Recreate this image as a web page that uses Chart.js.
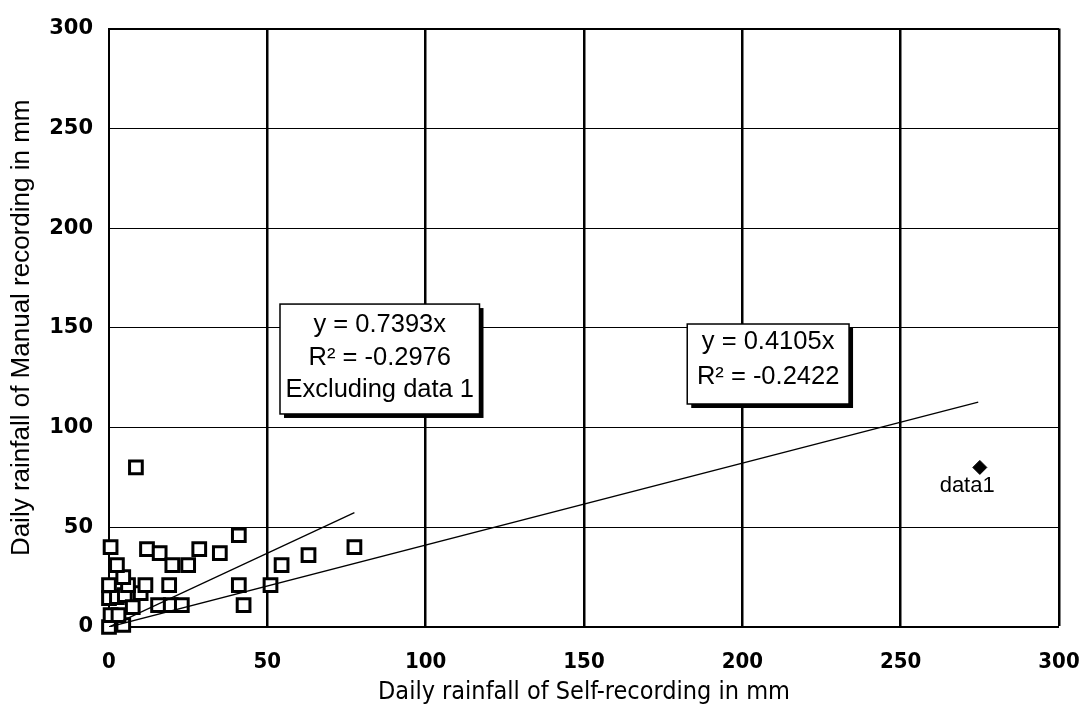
<!DOCTYPE html>
<html>
<head>
<meta charset="utf-8">
<script src="https://cdn.jsdelivr.net/npm/chart.js"></script>
<style>
  body { margin: 0; background: #fff; }
  #wrap { width: 1085px; height: 715px; }
</style>
</head>
<body>
<div id="wrap"><canvas id="rainChart" width="1085" height="715"></canvas></div>
<script>
// daily rainfall pairs (Self-recording x, Manual y)
var selfRecording   = [0, 0.5, 4.5, 3, 0, 2.5, 5, 10, 0, 6, 11.5, 19, 4.5, 2.5, 0.5, 8.5, 12, 16, 20, 25, 28.5, 35, 41, 41, 42.5, 51, 54.5, 63, 77.5, 15.5, 19.5, 23, 7.5];
var manualRecording = [0, 6, 1, 6, 14.5, 15, 16, 17, 21, 21, 21, 21, 25, 31, 40, 80, 39, 37, 31, 31, 39, 37, 46, 21, 11, 21, 31, 36, 40, 11, 11, 11, 10];

// the outlier labelled "data1"
var data1Self = [275];
var data1Manual = [80];

// trend line end points as drawn
var trendAllX = [0, 274.5];
var trendAllY = [0, 112.7];
var trendExclX = [0, 77.5];
var trendExclY = [0, 57.3];

var axisTicks = [0, 50, 100, 150, 200, 250, 300];

var boxText1 = ['y = 0.7393x', 'R\u00b2 = -0.2976', 'Excluding data 1'];
var boxText2 = ['y = 0.4105x', 'R\u00b2 = -0.2422'];

function toPoints(xs, ys) {
	var pts = [];
	for (var i = 0; i < xs.length; i++) {
		pts.push({ x: xs[i], y: ys[i] });
	}
	return pts;
}

// draws the equation boxes and the data1 label
var notesPlugin = {
	id: 'notes',
	afterDatasetsDraw: function (chart, args, opts) {
		var ctx = chart.ctx;
		var xs = chart.scales.x, ys = chart.scales.y;
		ctx.save();
		opts.boxes.forEach(function (b) {
			var l = xs.getPixelForValue(b.xMin), r = xs.getPixelForValue(b.xMax);
			var t = ys.getPixelForValue(b.yMax), btm = ys.getPixelForValue(b.yMin);
			ctx.fillStyle = '#000';
			ctx.fillRect(l + 4, t + 4, r - l, btm - t);
			ctx.fillStyle = '#fff';
			ctx.fillRect(l, t, r - l, btm - t);
			ctx.strokeStyle = '#000';
			ctx.lineWidth = 1.5;
			ctx.strokeRect(l, t, r - l, btm - t);
			ctx.fillStyle = '#000';
			ctx.font = '25.5px "Liberation Sans", Arial, sans-serif';
			ctx.textAlign = 'center';
			ctx.textBaseline = 'middle';
			b.lines.forEach(function (line, i) {
				ctx.fillText(line, (l + r) / 2, t + b.first + i * b.step);
			});
		});
		var lb = opts.label;
		ctx.font = '22px "Liberation Sans", Arial, sans-serif';
		ctx.textAlign = 'center';
		ctx.textBaseline = 'middle';
		ctx.fillText(lb.text, xs.getPixelForValue(lb.x), ys.getPixelForValue(lb.y));
		ctx.restore();
	}
};

function buildChart() {
	var canvas = document.getElementById('rainChart').getContext('2d');
	new Chart(canvas, {
		type: 'scatter',
		data: {
			datasets: [
				{
					label: 'trend all',
					type: 'line',
					data: toPoints(trendAllX, trendAllY),
					borderColor: '#000',
					borderWidth: 1.3,
					pointRadius: 0,
					fill: false
				},
				{
					label: 'trend excluding data 1',
					type: 'line',
					data: toPoints(trendExclX, trendExclY),
					borderColor: '#000',
					borderWidth: 1.3,
					pointRadius: 0,
					fill: false
				},
				{
					label: 'observations',
					data: toPoints(selfRecording, manualRecording),
					pointStyle: 'rect',
					pointRadius: 9,
					borderColor: '#000',
					backgroundColor: '#fff',
					borderWidth: 3,
					clip: false
				},
				{
					label: 'data1',
					data: toPoints(data1Self, data1Manual),
					pointStyle: 'rectRot',
					pointRadius: 7,
					borderColor: '#000',
					backgroundColor: '#000',
					borderWidth: 1
				}
			]
		},
		options: {
			responsive: false,
			animation: false,
			layout: { padding: { left: 0, right: 26, top: 28, bottom: 0 } },
			plugins: {
				legend: { display: false },
				tooltip: { enabled: false },
				notes: {
					boxes: [
						{ xMin: 54, xMax: 117, yMin: 106.8, yMax: 161.9, first: 21, step: 32.5, lines: boxText1 },
						{ xMin: 182.6, xMax: 233.7, yMin: 111.8, yMax: 151.9, first: 18, step: 35, lines: boxText2 }
					],
					label: { text: 'data1', x: 271, y: 70.8 }
				}
			},
			scales: {
				x: {
					type: 'linear',
					min: 0,
					max: 300,
					afterBuildTicks: function (scale) {
						scale.ticks = axisTicks.map(function (v) { return { value: v }; });
					},
					afterFit: function (scale) {
						scale.height = 88;
						scale.paddingLeft = 0;
						scale.paddingRight = 0;
					},
					border: { color: '#000', width: 2 },
					grid: {
						color: '#000',
						drawTicks: false,
						lineWidth: function (c) { return c.tick && c.tick.value === 0 ? 0 : 2.5; }
					},
					ticks: {
						color: '#000',
						padding: 22,
						font: { family: '"Liberation Sans Narrow", "DejaVu Sans Condensed", sans-serif', size: 22, weight: 'bold' }
					},
					title: {
						display: true,
						text: 'Daily rainfall of Self-recording in mm',
						color: '#000',
						padding: { bottom: 8 },
						font: { family: '"Liberation Sans Narrow", "DejaVu Sans Condensed", sans-serif', size: 25 }
					}
				},
				y: {
					type: 'linear',
					min: 0,
					max: 300,
					afterBuildTicks: function (scale) {
						scale.ticks = axisTicks.map(function (v) { return { value: v }; });
					},
					afterFit: function (scale) { scale.width = 109; },
					border: { color: '#000', width: 2 },
					grid: {
						color: '#000',
						drawTicks: false,
						lineWidth: function (c) {
							if (!c.tick) return 1;
							if (c.tick.value === 0) return 0;
							return c.tick.value === 300 ? 2 : 1;
						}
					},
					ticks: {
						color: '#000',
						padding: 16,
						font: { family: '"DejaVu Sans", sans-serif', size: 21, weight: 'bold' }
					},
					title: {
						display: true,
						text: 'Daily rainfall of Manual recording in mm',
						color: '#000',
						padding: { top: 6 },
						font: { family: '"Liberation Sans", Arial, sans-serif', size: 26 }
					}
				}
			}
		},
		plugins: [notesPlugin]
	});
}

buildChart();
</script>
</body>
</html>
